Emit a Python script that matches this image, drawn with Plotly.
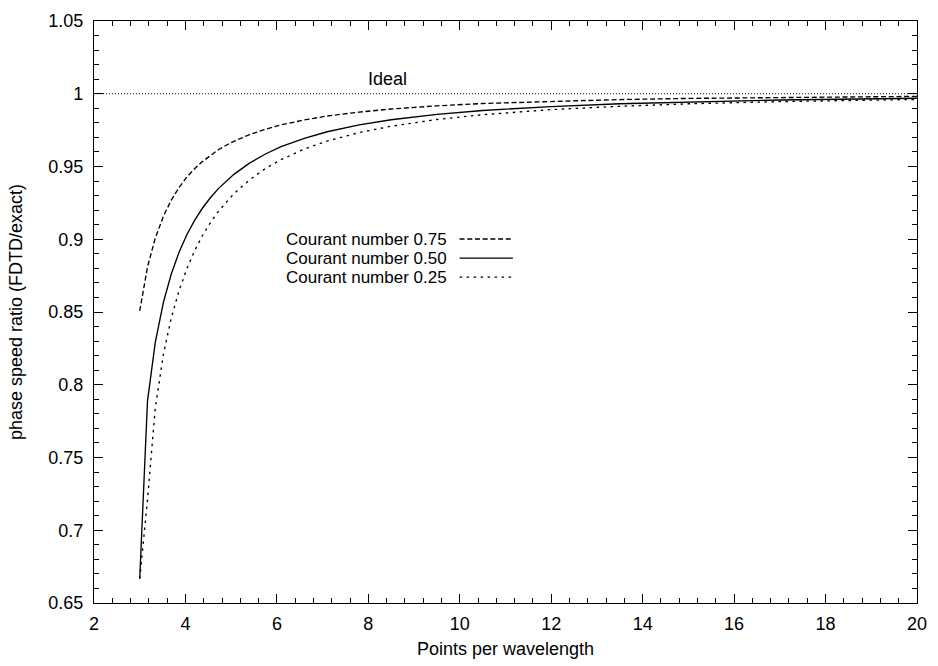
import plotly.graph_objects as go

# Points per wavelength (sample positions shared by all three curves)
ppw = [3.0, 3.17, 3.34, 3.52, 3.69, 3.86, 4.03, 4.2, 4.37, 4.55, 4.72, 4.89,
       5.06, 5.4, 5.75, 6.09, 6.6, 7.1, 7.8, 8.5, 9.5, 10.5, 12, 13.5, 15, 17, 20]

# Phase speed ratio (FDTD/exact) for each Courant number
ratio_075 = [0.8507, 0.8809, 0.9008, 0.9160, 0.9269, 0.9356, 0.9427, 0.9485,
             0.9534, 0.9579, 0.9615, 0.9646, 0.9673, 0.9719, 0.9756, 0.9786,
             0.9820, 0.9847, 0.9874, 0.9895, 0.9917, 0.9933, 0.9949, 0.9960,
             0.9968, 0.9975, 0.9982]
ratio_050 = [0.6667, 0.7888, 0.8291, 0.8569, 0.8761, 0.8910, 0.9031, 0.9130,
             0.9213, 0.9287, 0.9348, 0.9400, 0.9446, 0.9523, 0.9586, 0.9636,
             0.9694, 0.9739, 0.9786, 0.9821, 0.9858, 0.9885, 0.9912, 0.9931,
             0.9944, 0.9957, 0.9969]
ratio_025 = [0.6667, 0.7207, 0.7840, 0.8213, 0.8459, 0.8647, 0.8797, 0.8921,
             0.9024, 0.9116, 0.9191, 0.9256, 0.9313, 0.9408, 0.9486, 0.9547,
             0.9620, 0.9675, 0.9733, 0.9777, 0.9823, 0.9856, 0.9891, 0.9914,
             0.9931, 0.9946, 0.9961]

# Reference line for an exact phase speed
ideal_x = [2, 20]
ideal_y = [1.0, 1.0]

series_names = ["Courant number 0.75", "Courant number 0.50", "Courant number 0.25"]

x_ticks = [2, 4, 6, 8, 10, 12, 14, 16, 18, 20]
y_ticks = [0.65, 0.7, 0.75, 0.8, 0.85, 0.9, 0.95, 1.0, 1.05]
y_tick_labels = ["0.65", "0.7", "0.75", "0.8", "0.85", "0.9", "0.95", "1", "1.05"]

FONT = "Liberation Sans, Arial, Helvetica, sans-serif"
DASHES = ["5px,2.7px", "solid", "2.5px,4.5px"]
LW = 1.35

fig = go.Figure()

fig.add_trace(go.Scatter(x=ideal_x, y=ideal_y, mode="lines",
                         line=dict(color="black", width=1, dash="1px,2px"),
                         showlegend=False, hoverinfo="skip"))

for name, ys, dash in zip(series_names, [ratio_075, ratio_050, ratio_025], DASHES):
    fig.add_trace(go.Scatter(x=ppw, y=ys, mode="lines", name=name,
                             line=dict(color="black", width=LW, dash=dash),
                             showlegend=False))

# Key drawn gnuplot-style: label on the left, line sample on the right
key_rows_y = [0.6254, 0.5926, 0.5598]
for name, dash, ky in zip(series_names, DASHES, key_rows_y):
    fig.add_annotation(x=0.431, y=ky, xref="paper", yref="paper", text=name,
                       showarrow=False, xanchor="right", yanchor="middle",
                       font=dict(family=FONT, size=17, color="black"))
    fig.add_shape(type="line", xref="paper", yref="paper",
                  x0=0.4442, x1=0.5090, y0=ky, y1=ky,
                  line=dict(color="black", width=LW, dash=dash))

fig.add_annotation(x=8.43, y=1.0102, text="Ideal", showarrow=False,
                   xanchor="center", yanchor="middle",
                   font=dict(family=FONT, size=18, color="black"))

axis_common = dict(
    showline=True, linecolor="black", linewidth=1.3, mirror="allticks",
    ticks="inside", ticklen=9, tickwidth=1, tickcolor="black",
    showgrid=False, zeroline=False,
    tickfont=dict(family=FONT, size=18, color="black"),
)

fig.update_xaxes(
    range=[2, 20], tickmode="array", tickvals=x_ticks,
    minor=dict(ticks="inside", ticklen=5, tickwidth=1, tickcolor="black",
               dtick=0.4, tick0=2, showgrid=False),
    title=dict(text="Points per wavelength", standoff=9,
               font=dict(family=FONT, size=18, color="black")),
    ticklabelstandoff=4,
    **axis_common,
)
fig.update_yaxes(
    range=[0.65, 1.05], tickmode="array", tickvals=y_ticks, ticktext=y_tick_labels,
    minor=dict(ticks="inside", ticklen=5, tickwidth=1, tickcolor="black",
               dtick=0.01, tick0=0.65, showgrid=False),
    title=dict(text="phase speed ratio (FDTD/exact)", standoff=20,
               font=dict(family=FONT, size=18, color="black")),
    ticklabelstandoff=6,
    **axis_common,
)

fig.update_layout(
    width=938, height=666, autosize=False,
    margin=dict(l=94, r=11, t=15, b=57),
    paper_bgcolor="white", plot_bgcolor="white",
    font=dict(family=FONT, size=18, color="black"),
)

fig.write_html("out.html")
